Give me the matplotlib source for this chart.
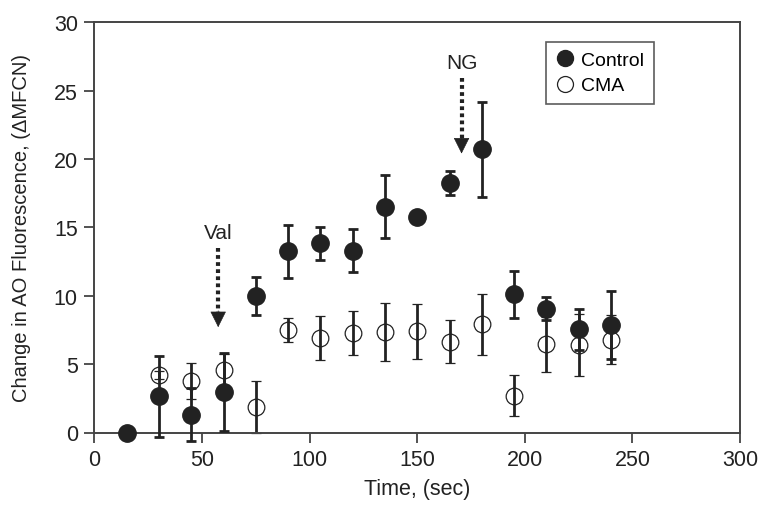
import matplotlib
matplotlib.use("Agg")
import matplotlib.pyplot as plt
from matplotlib.lines import Line2D

plt.rcParams['font.family'] = ['Liberation Sans', 'DejaVu Sans']

# time points (sec)
time_control = [15, 30, 45, 60, 75, 90, 105, 120, 135, 150, 165, 180, 195, 210, 225, 240]
control_mean = [0.0, 2.65, 1.3, 2.95, 10.0, 13.25, 13.85, 13.3, 16.5, 15.75, 18.25, 20.7, 10.1, 9.05, 7.55, 7.85]
control_err = [0.0, 2.95, 1.95, 2.85, 1.4, 1.95, 1.2, 1.55, 2.3, 0.0, 0.85, 3.45, 1.7, 0.85, 1.5, 2.5]

time_cma = [30, 45, 60, 75, 90, 105, 120, 135, 150, 165, 180, 195, 210, 225, 240]
cma_mean = [4.2, 3.75, 4.6, 1.85, 7.5, 6.9, 7.3, 7.35, 7.4, 6.65, 7.9, 2.7, 6.45, 6.4, 6.8]
cma_err = [0.3, 1.3, 1.15, 1.9, 0.85, 1.6, 1.6, 2.15, 2.0, 1.6, 2.2, 1.5, 2.0, 2.25, 1.8]

# drug additions: (label, time, arrow start, arrow tip)
additions = [("Val", 57.5, 13.5, 7.7), ("NG", 170.6, 25.9, 20.4)]

dark = '#222222'

fig = plt.figure(figsize=(7.6, 5.1), dpi=100)
ax = fig.add_axes([0.1243, 0.15, 0.8494, 0.8043])

eb1 = ax.errorbar(time_control, control_mean, yerr=control_err, fmt='o', ms=12.5,
                  color=dark, mfc=dark, mec=dark, ecolor=dark, elinewidth=2.0,
                  capsize=3.5, capthick=2.0, zorder=3)
eb2 = ax.errorbar(time_cma, cma_mean, yerr=cma_err, fmt='o', ms=12, color=dark,
                  mfc='none', mec=dark, mew=0.9, ecolor=dark, elinewidth=2.0,
                  capsize=3.5, capthick=2.0, zorder=2)
# let bars and markers near zero spill past the bottom axis
for eb in (eb1, eb2):
    for artist in eb.get_children():
        artist.set_clip_on(False)

for name, t, y0, y1 in additions:
    ax.plot([t, t], [y0, y1 + 1.0], color=dark, lw=3.0,
            linestyle=(0, (0.9, 0.8)), solid_capstyle='butt')
    ax.annotate('', xy=(t, y1), xytext=(t, y1 + 1.2),
                arrowprops=dict(arrowstyle='-|>', color=dark, lw=0.5,
                                mutation_scale=26, shrinkA=0, shrinkB=0))
    ax.text(t, y0 + 1.15, name, ha='center', va='center', fontsize=15, color=dark)

ax.set_xlim(0, 300)
ax.set_ylim(0, 30)
ax.set_xticks(range(0, 301, 50))
ax.set_yticks(range(0, 31, 5))
ax.tick_params(direction='out', length=7, width=1.3, color='#444444',
               labelsize=15.5, labelcolor=dark, pad=5)
for s in ax.spines.values():
    s.set_color('#444444')
    s.set_linewidth(1.4)

ax.set_xlabel('Time, (sec)', fontsize=15.5, color=dark, labelpad=6)
ax.set_ylabel('Change in AO Fluorescence, (ΔMFCN)', fontsize=14.5, color=dark, labelpad=16)

handles = [
    Line2D([], [], ls='none', marker='o', ms=11.5, mfc=dark, mec=dark),
    Line2D([], [], ls='none', marker='o', ms=11.5, mfc='none', mec=dark, mew=0.9),
]
leg = ax.legend(handles, ['Control', 'CMA'], loc='upper left',
                bbox_to_anchor=(0.6995, 0.953), fontsize=14,
                frameon=True, fancybox=False, edgecolor='#333333',
                handletextpad=0.3, handlelength=1.0, borderpad=0.5,
                labelspacing=0.4, borderaxespad=0)
leg.get_frame().set_linewidth(1.2)

fig.savefig('out.png', dpi=100)
